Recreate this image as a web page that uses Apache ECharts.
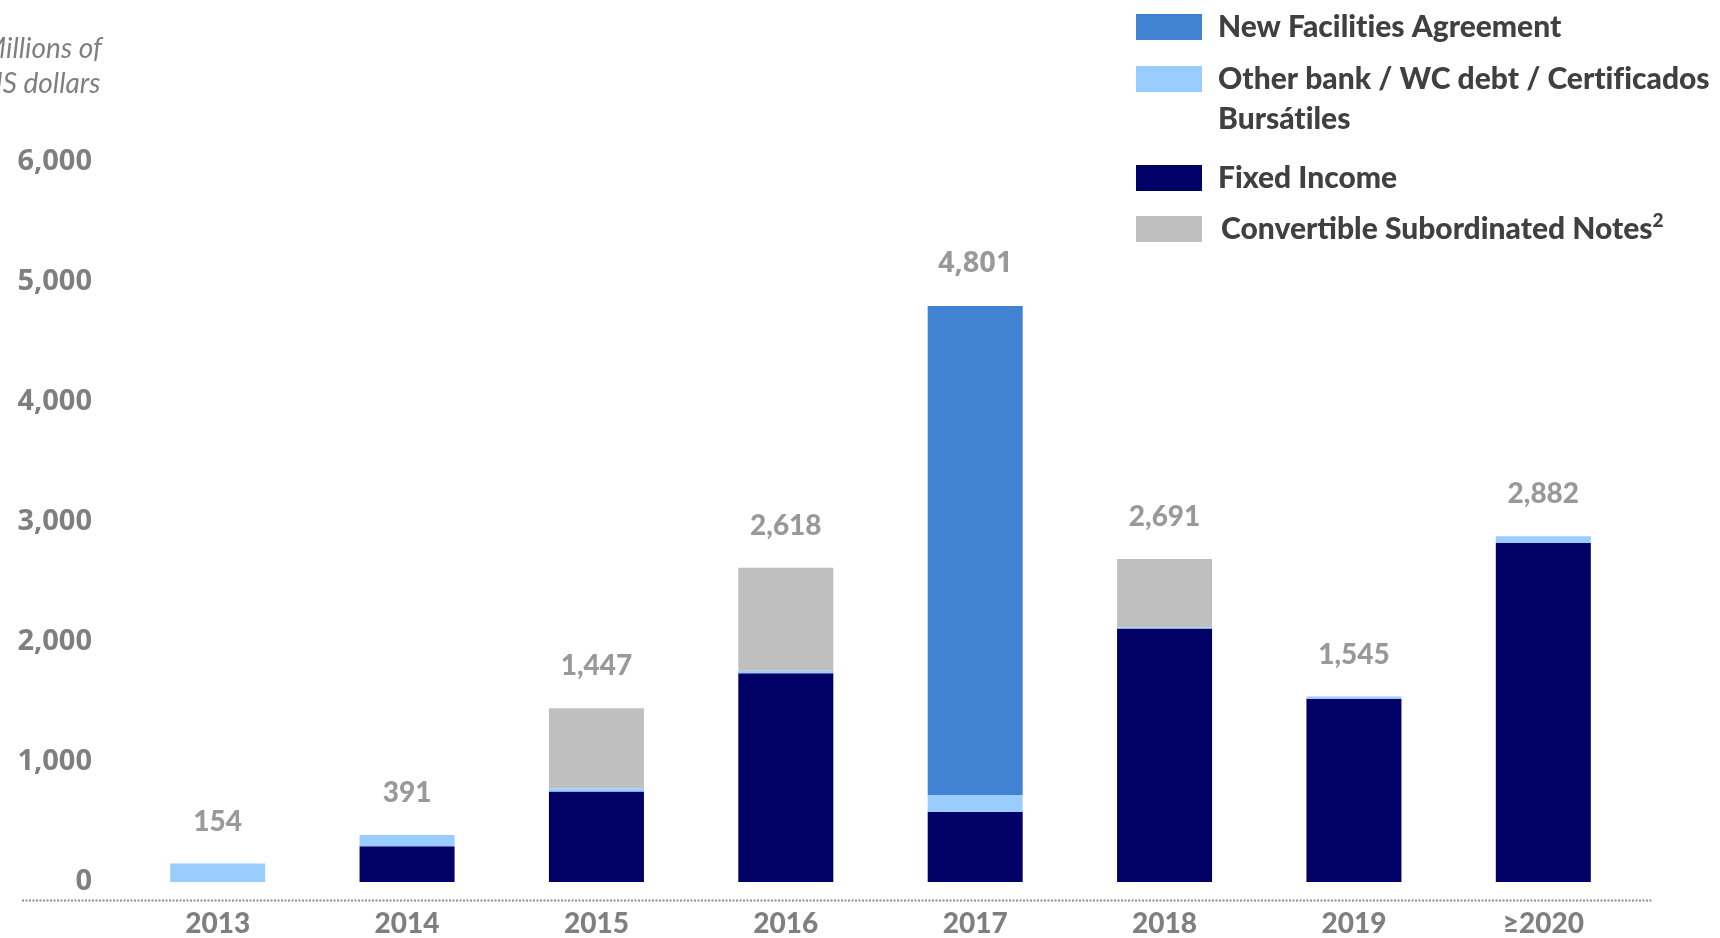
<!DOCTYPE html>
<html>
<head>
<meta charset="utf-8">
<script src="https://cdn.jsdelivr.net/npm/echarts@6/dist/echarts.min.js"></script>
<style>
html,body{margin:0;padding:0;background:#fff;}
#chart{width:1720px;height:938px;}
</style>
</head>
<body>
<div id="chart"></div>
<script>
const categories = ['2013', '2014', '2015', '2016', '2017', '2018', '2019', '≥2020'];
const fixedIncome = [0, 297, 755, 1740, 585, 2112, 1527, 2825];
const otherBank = [154, 94, 27, 20, 140, 10, 18, 57];
const newFacilities = [0, 0, 0, 0, 4076, 0, 0, 0];
const convertible = [0, 0, 665, 858, 0, 569, 0, 0];
const totals = [154, 391, 1447, 2618, 4801, 2691, 1545, 2882];
const yMin = 0, yMax = 6000, yInterval = 1000;

const GRAY = '#7f7f7f';
const fmt = v => Number(v).toLocaleString('en-US');
// avoid fi / ti ligatures (invisible joiner breaker)
const noLig = s => s.replace(/f(?=i)/g, 'f\u200C').replace(/t(?=i)/g, 't\u200C');

const legendText = {
  fontFamily: 'Lato', fontWeight: 900, fontSize: 30, color: '#404040',
  lineHeight: 36, padding: [0, 0, 0, 11]
};
const legendBase = {
  orient: 'horizontal', left: 1136, itemWidth: 66, itemHeight: 26,
  icon: 'rect', padding: 0, selectedMode: false
};

const chart = echarts.init(document.getElementById('chart'));
chart.setOption({
  animation: false,
  backgroundColor: '#ffffff',
  grid: { left: 123, right: 82, top: 162, bottom: 55, containLabel: false },
  legend: [
    Object.assign({}, legendBase, { top: 9, data: ['New Facilities Agreement'], formatter: n => noLig(n), textStyle: legendText }),
    Object.assign({}, legendBase, {
      top: 19, data: ['Other bank / WC debt / Certificados Bursátiles'],
      formatter: () => noLig('\nOther bank / WC debt / Certificados\nBursátiles'),
      textStyle: Object.assign({}, legendText, { lineHeight: 40 })
    }),
    Object.assign({}, legendBase, { top: 160, data: ['Fixed Income'], textStyle: legendText }),
    Object.assign({}, legendBase, {
      top: 211, data: ['Convertible Subordinated Notes'],
      formatter: n => n + '{sup|2}',
      textStyle: Object.assign({}, legendText, {
        padding: [0, 0, 0, 14],
        rich: { sup: { fontFamily: 'Lato', fontWeight: 900, fontSize: 19, color: '#404040', verticalAlign: 'top', lineHeight: 20 } }
      })
    })
  ],
  xAxis: {
    type: 'category', data: categories,
    axisLine: { show: false }, axisTick: { show: false },
    axisLabel: { fontFamily: 'Lato', fontWeight: 900, fontSize: 28, color: GRAY, margin: 28 }
  },
  yAxis: {
    type: 'value', min: yMin, max: yMax, interval: yInterval,
    splitLine: { show: false }, axisLine: { show: false }, axisTick: { show: false },
    axisLabel: { formatter: fmt, fontFamily: 'Open Sans', fontWeight: 'bold', fontSize: 29, color: GRAY, margin: 31 }
  },
  graphic: [
    { type: 'line', shape: { x1: 22, y1: 900.5, x2: 1652, y2: 900.5 },
      style: { stroke: '#8c8c8c', lineWidth: 2, lineDash: [2, 1.5] }, silent: true },
    { type: 'text', x: 42, y: 31, silent: true,
      style: { text: 'Millions of\nUS dollars', align: 'center', verticalAlign: 'top',
        fontFamily: 'Lato', fontStyle: 'italic', fontSize: 28, lineHeight: 35, fill: GRAY } }
  ],
  series: [
    { name: 'Fixed Income', type: 'bar', stack: 'debt', barWidth: 95, data: fixedIncome, itemStyle: { color: '#000066' } },
    { name: 'Other bank / WC debt / Certificados Bursátiles', type: 'bar', stack: 'debt', barWidth: 95, data: otherBank, itemStyle: { color: '#99CCFF' } },
    { name: 'New Facilities Agreement', type: 'bar', stack: 'debt', barWidth: 95, data: newFacilities, itemStyle: { color: '#4282D3' } },
    { name: 'Convertible Subordinated Notes', type: 'bar', stack: 'debt', barWidth: 95, data: convertible, itemStyle: { color: '#BFBFBF' } },
    {
      name: 'Total', type: 'scatter', symbolSize: 0, z: 10,
      data: totals.map((v, i) => (i === 4 ? {
        value: v, label: { fontFamily: 'Open Sans', fontWeight: 'bold', fontSize: 29 }
      } : v)),
      label: {
        show: true, position: 'top', distance: 28,
        formatter: p => fmt(totals[p.dataIndex]),
        fontFamily: 'Lato', fontWeight: 900, fontSize: 28, color: GRAY
      }
    }
  ]
});
</script>
</body>
</html>
